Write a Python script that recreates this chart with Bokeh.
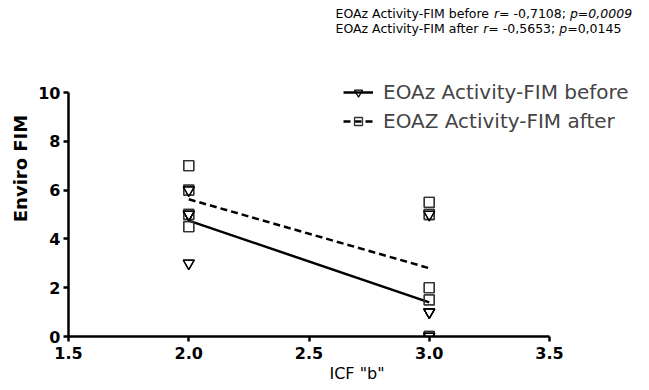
import numpy as np
from bokeh.plotting import figure
from bokeh.models import (Range1d, FixedTicker, PrintfTickFormatter, Legend,
                          LegendItem, Label)
from bokeh.embed import file_html
from bokeh.resources import INLINE

# ---------------- data ----------------
group_x = [2.0, 3.0]
before_x = [2, 2, 2, 2, 2, 2, 2, 2, 3, 3, 3, 3, 3, 3, 3, 3, 3, 3]
before_y = [6, 6, 5, 5, 5, 5, 3, 3, 5, 5, 1, 1, 1, 1, 0, 0, 0, 0]
after_x = [2, 2, 2, 2, 2, 2, 2, 2, 3, 3, 3, 3, 3, 3, 3, 3, 3, 3]
after_y = [7, 7, 6, 6, 5, 5, 4.5, 4.5, 5.5, 5.5, 5, 5, 2, 2, 1.5, 1.5, 0, 0]
x_ticks = [1.5, 2.0, 2.5, 3.0, 3.5]
y_ticks = [0, 2, 4, 6, 8, 10]
series_names = ["EOAz Activity-FIM before", "EOAZ Activity-FIM after"]
stat_lines = [
    [("EOAz Activity-FIM before ", False), ("r", True), ("= -0,7108; ", False), ("p=0,0009", True)],
    [("EOAz Activity-FIM after ", False), ("r", True), ("= -0,5653; ", False), ("p", True), ("=0,0145", False)],
]

FONT = "DejaVu Sans"

# ---------------- layout (pixels) ----------------
W, H = 645, 386
LEFT, BOTTOM = 68, 50          # frame left edge / space under the x axis
X0, X1 = x_ticks[0], x_ticks[-1]
Y0, Y1 = y_ticks[0], y_ticks[-1]
px_per_x = 481 / (X1 - X0)
px_per_y = 244 / (Y1 - Y0)
frame_w = W - LEFT
frame_h = H - BOTTOM
x_end = X0 + frame_w / px_per_x
y_end = Y0 + frame_h / px_per_y

p = figure(width=W, height=H, output_backend="svg", toolbar_location=None,
           x_range=Range1d(X0, x_end), y_range=Range1d(Y0, y_end),
           min_border_left=LEFT, min_border_right=0, min_border_top=0,
           min_border_bottom=BOTTOM)
p.outline_line_color = None
p.xgrid.visible = False
p.ygrid.visible = False
p.background_fill_color = "white"

for ax in (p.xaxis[0], p.yaxis[0]):
    ax.axis_line_width = 2.5
    ax.major_tick_line_width = 2.5
    ax.major_tick_out = 5
    ax.major_tick_in = 0
    ax.minor_tick_out = 0
    ax.minor_tick_in = 0
    ax.major_label_text_font = FONT
    ax.major_label_text_font_style = "bold"
    ax.major_label_text_font_size = "16px"
    ax.major_label_text_color = "black"
    ax.axis_label_text_font = FONT
    ax.axis_label_text_color = "black"

p.xaxis.bounds = (X0, X1)
p.yaxis.bounds = (Y0, Y1)
p.xaxis.ticker = FixedTicker(ticks=x_ticks)
p.yaxis.ticker = FixedTicker(ticks=y_ticks)
p.xaxis.formatter = PrintfTickFormatter(format="%.1f")
p.xaxis.major_label_standoff = 5
p.yaxis.major_label_standoff = 3
p.xaxis.axis_label = 'ICF "b"'
p.xaxis.axis_label_text_font_style = "normal"
p.xaxis.axis_label_text_font_size = "16px"
p.xaxis.axis_label_standoff = 2
p.yaxis.axis_label = "Enviro FIM"
p.yaxis.axis_label_text_font_style = "bold"
p.yaxis.axis_label_text_font_size = "18px"
p.yaxis.axis_label_standoff = 4

# regression lines computed from the data
fb = np.polyfit(before_x, before_y, 1)
fa = np.polyfit(after_x, after_y, 1)
gx = np.array(group_x)
lb = p.line(gx, np.polyval(fb, gx), line_color="black", line_width=2.5)
la = p.line(gx, np.polyval(fa, gx), line_color="black", line_width=2.5,
            line_dash="7 4")

sa = p.scatter(after_x, after_y, marker="square", size=10, fill_color=None,
               line_color="#333333", line_width=1.3)
sb = p.scatter(before_x, before_y, marker="inverted_triangle", size=11,
               fill_color=None, line_color="black", line_width=1.2)

legend = Legend(items=[LegendItem(label=series_names[0], renderers=[lb, sb]),
                       LegendItem(label=series_names[1], renderers=[la, sa])],
                location=(275, 203), padding=0, margin=0, spacing=5,
                glyph_width=30, glyph_height=20, label_height=20,
                label_standoff=10, label_text_font=FONT,
                label_text_font_size="20px", border_line_alpha=0,
                background_fill_alpha=0)
p.add_layout(legend)

# statistics text, positioned with DejaVu Sans advance widths (per 1000 em)
CW = {" ": 318, ",": 318, "-": 361, ".": 318, ";": 337, "=": 838, "A": 684,
      "E": 632, "F": 575, "I": 295, "M": 863, "O": 787, "Z": 685, "a": 613,
      "b": 635, "c": 550, "e": 615, "f": 352, "i": 278, "o": 612, "p": 635,
      "r": 411, "t": 392, "v": 592, "y": 592, "z": 525}
for d in "0123456789":
    CW[d] = 636
fs = 12.5


def xd(px):
    return X0 + (px - LEFT) / px_per_x


def yd(py):
    return Y0 + (frame_h - py) / px_per_y


for pieces, base_py in zip(stat_lines, [13, 28]):
    cx = 335.0
    for txt, ital in pieces:
        p.add_layout(Label(x=xd(cx), y=yd(base_py), text=txt, text_font=FONT,
                           text_font_size=f"{fs}px",
                           text_font_style="italic" if ital else "normal",
                           text_baseline="alphabetic", text_align="left",
                           text_color="black"))
        cx += sum(CW.get(c, 600) for c in txt) / 1000 * fs

open("out.html", "w").write(file_html(p, INLINE))
